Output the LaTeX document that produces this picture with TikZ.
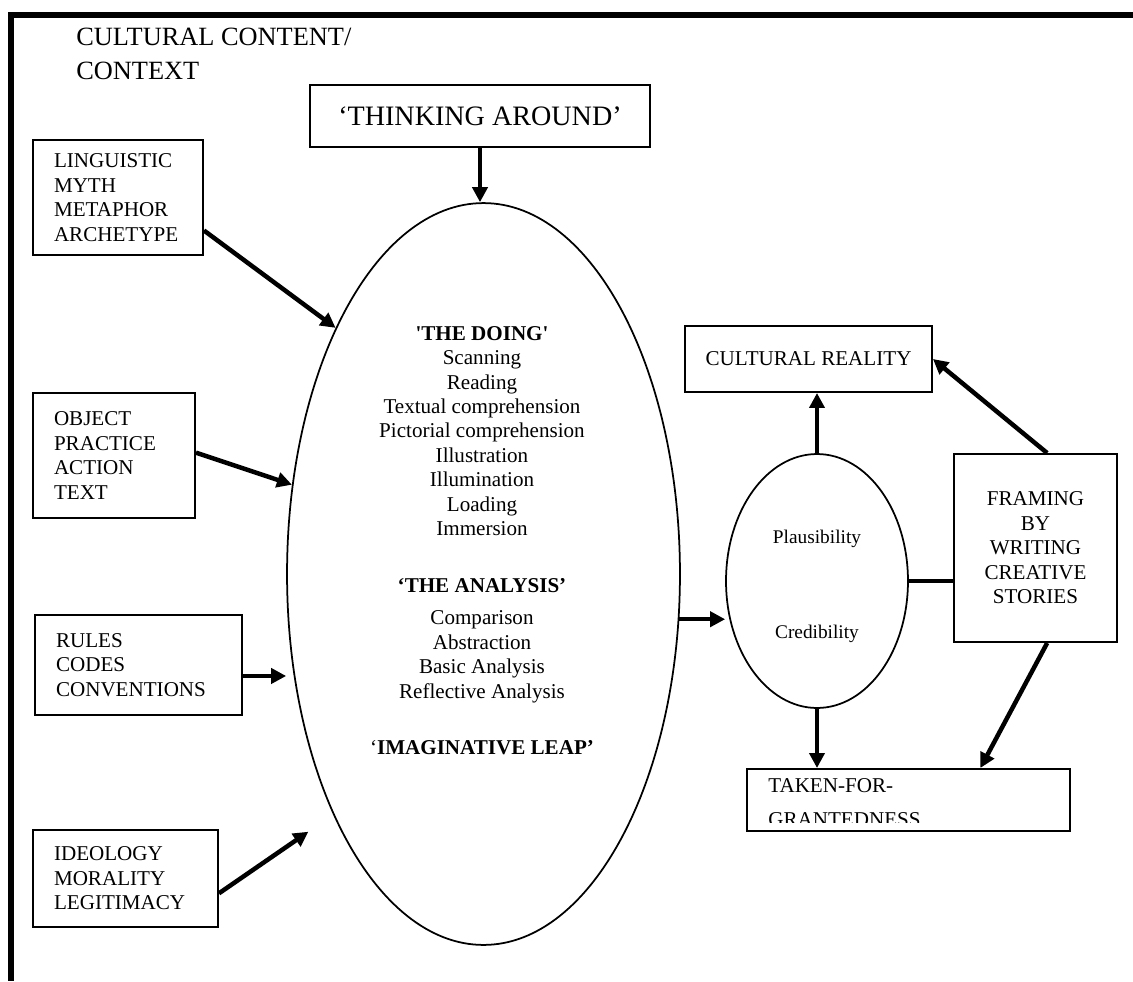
\documentclass[tikz,border=0pt]{standalone}
\usepackage{fontspec}
\setmainfont{Liberation Serif}
\usetikzlibrary{shapes.geometric,arrows.meta}

\begin{document}
\begin{tikzpicture}[x=0.02cm,y=-0.02cm,
	box/.style={draw,line width=0.04cm,inner ysep=0pt,font=\fontsize{12}{13.94}\selectfont},
	listbox/.style={box,align=left,inner xsep=0.42cm},
	oval/.style={draw,ellipse,line width=0.035cm,inner sep=0pt},
	txt/.style={inner sep=0pt,align=center,font=\fontsize{12}{13.94}\selectfont},
	arr/.style={line width=0.09cm,-{Triangle[length=0.3cm,width=0.3cm]}}]
	\useasboundingbox (0,0) rectangle (1133,981);
	%Frame
	\draw[line width=0.12cm] (1133,15) -- (11,15) -- (11,981);
	\node[anchor=north west,inner sep=0pt,align=left,font=\fontsize{15}{19}\selectfont] (title) at (76,28) {CULTURAL CONTENT/\\CONTEXT};
	%Nodes
	\node[box,minimum width=6.8cm,minimum height=1.24cm,font=\fontsize{16}{19}\selectfont] (think) at (480,116) {`THINKING AROUND'};
	\node[oval,minimum width=7.86cm,minimum height=14.84cm] (doing) at (483.5,574) {};
	\node[txt,anchor=north] (doinglist) at (482,325.7) {\textbf{\textquotesingle THE DOING\textquotesingle}\\Scanning\\Reading\\Textual comprehension\\Pictorial comprehension\\Illustration\\Illumination\\Loading\\Immersion};
	\node[txt,anchor=north] (analysislist) at (482,578.5) {\textbf{`THE ANALYSIS'}\\[4.3pt]Comparison\\Abstraction\\Basic Analysis\\Reflective Analysis};
	\node[txt,anchor=base] (leap) at (482,754) {`\textbf{IMAGINATIVE LEAP'}};
	%Left boxes
	\node[listbox,text width=2.56cm,minimum height=2.3cm] (ling) at (118,197.5) {LINGUISTIC\\MYTH\\METAPHOR\\ARCHETYPE};
	\node[listbox,text width=2.4cm,minimum height=2.5cm] (obj) at (114,455.5) {OBJECT\\PRACTICE\\ACTION\\TEXT};
	\node[listbox,text width=3.3cm,minimum height=2cm] (rules) at (138.5,665) {RULES\\CODES\\CONVENTIONS};
	\node[listbox,text width=2.86cm,minimum height=1.94cm] (ideo) at (125.5,878.5) {IDEOLOGY\\MORALITY\\LEGITIMACY};
	%Right side
	\node[oval,minimum width=3.64cm,minimum height=5.08cm] (small) at (817,581) {};
	\node[txt,anchor=base,font=\fontsize{11}{13}\selectfont] (plaus) at (817,543) {Plausibility};
	\node[txt,anchor=base,font=\fontsize{11}{13}\selectfont] (cred) at (817,638) {Credibility};
	\node[box,minimum width=4.94cm,minimum height=1.32cm] (real) at (808.5,359) {CULTURAL REALITY};
	\node[box,align=center,minimum width=3.26cm,minimum height=3.76cm] (framing) at (1035.5,548) {FRAMING\\BY\\WRITING\\CREATIVE\\STORIES};
	\node[box,minimum width=6.46cm,minimum height=1.24cm] (taken) at (908.5,800) {};
	\begin{scope}
		\clip (747,769) rectangle (1070,822);
		\node[txt,anchor=north west,align=left,font=\fontsize{12}{19}\selectfont] (takentext) at (768,778.5) {TAKEN-FOR-\\GRANTEDNESS};
	\end{scope}
	%Arrows
	\draw
		(think.south) edge[arr] (think.south |- doing.north)
		(ling.339) edge[arr] (doing.121)
		(obj.2) edge[arr] (doing.155)
		(rules.354) edge[arr] (rules.354 -| doing.west)
		(ideo.351) edge[arr,shorten >=0.6cm] (doing.238)
		(doing.347) edge[arr] (doing.347 -| small.west)
		(small.north) edge[arr] (small.north |- real.south)
		(framing.83) edge[arr] (real.east)
		(small.south) edge[arr] (small.south |- taken.north)
		(framing.277) edge[arr] (taken.24)
	;
	\draw[line width=0.09cm] (small.east) -- (small.east -| framing.west);
\end{tikzpicture}
\end{document}
